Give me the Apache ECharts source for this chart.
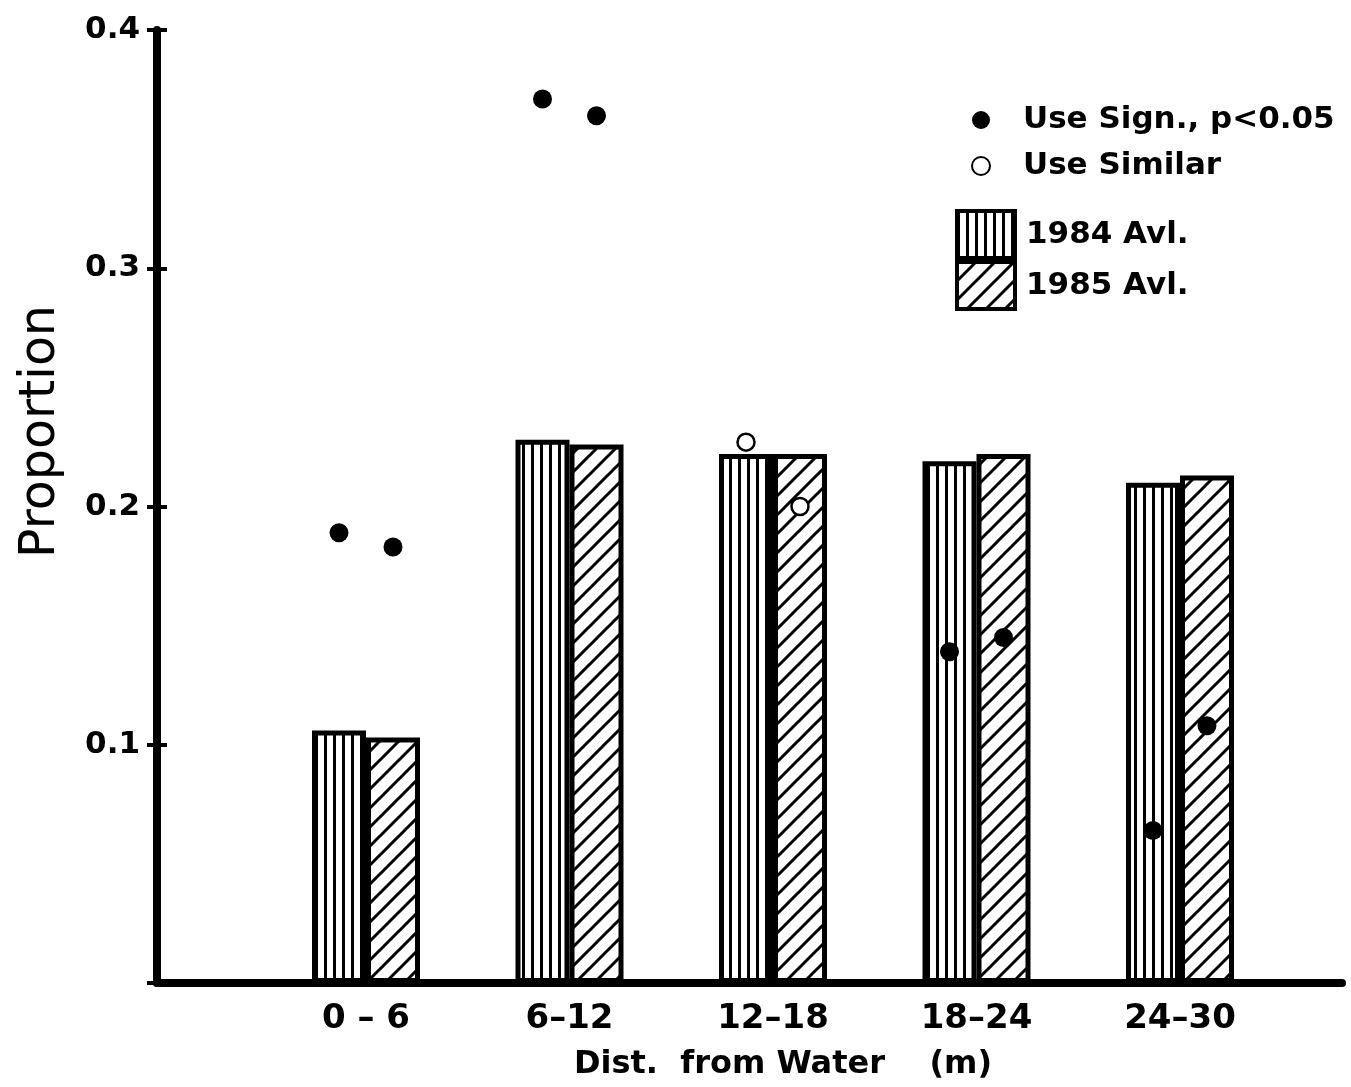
<!DOCTYPE html>
<html><head><meta charset="utf-8">
<script src="https://cdn.jsdelivr.net/npm/echarts@6/dist/echarts.min.js"></script>
<style>html,body{margin:0;padding:0;background:#fff}#c{width:1351px;height:1087px}</style>
</head><body><div id="c"></div>
<script>
// ---- data ----
const categories = ['0 – 6', '6–12', '12–18', '18–24', '24–30'];
const avl1984 = [0.106, 0.228, 0.222, 0.219, 0.210];
const avl1985 = [0.103, 0.226, 0.222, 0.222, 0.213];
const signUse1984 = [0.189, 0.371, null, 0.139, 0.064];
const signUse1985 = [0.183, 0.364, null, 0.145, 0.108];
const similarUse1984 = [null, null, 0.227, null, null];
const similarUse1985 = [null, null, 0.200, null, null];
const yTickValues = [0.1, 0.2, 0.3, 0.4];

// ---- patterns ----
function verticalStripes() {
  const c = document.createElement('canvas');
  c.width = 9; c.height = 9;
  const g = c.getContext('2d');
  g.fillStyle = '#fff'; g.fillRect(0, 0, 9, 9);
  g.fillStyle = '#000'; g.fillRect(0, 0, 3, 9);
  return c;
}
function diagonalStripes() {
  const s = 19;
  const c = document.createElement('canvas');
  c.width = s; c.height = s;
  const g = c.getContext('2d');
  g.fillStyle = '#fff'; g.fillRect(0, 0, s, s);
  g.strokeStyle = '#000'; g.lineWidth = 3;
  g.beginPath();
  g.moveTo(-2, s + 2); g.lineTo(s + 2, -2);
  g.moveTo(-2, 2); g.lineTo(2, -2);
  g.moveTo(s - 2, s + 2); g.lineTo(s + 2, s - 2);
  g.stroke();
  return c;
}
const fill1984 = { image: verticalStripes(), repeat: 'repeat' };
const fill1985 = { image: diagonalStripes(), repeat: 'repeat' };

const FONT = 'DejaVu Sans';
const half = 27;

const chart = echarts.init(document.getElementById('c'), null, { renderer: 'canvas' });
chart.setOption({
  backgroundColor: '#fff',
  animation: false,
  grid: [
    { left: 157, right: 9, top: 30, bottom: 104, outerBoundsMode: 'none' },
    { left: 264.25, width: 1017.5, top: 30, bottom: 104, outerBoundsMode: 'none' }
  ],
  xAxis: [
    { gridIndex: 0, type: 'value', min: 0, max: 1,
      axisLine: { show: true, lineStyle: { color: '#000', width: 8, cap: 'round' } },
      axisTick: { show: false }, axisLabel: { show: false }, splitLine: { show: false } },
    { gridIndex: 1, type: 'category', data: categories, boundaryGap: true,
      axisLine: { show: false }, axisTick: { show: false }, splitLine: { show: false },
      axisLabel: { color: '#000', fontFamily: FONT, fontWeight: 'bold', fontSize: 34, margin: 19 },
      name: 'Dist.  from Water    (m)', nameLocation: 'middle', nameGap: 66,
      nameTextStyle: { color: '#000', fontFamily: FONT, fontWeight: 'bold', fontSize: 32, padding: [0, 0, 0, 20] } }
  ],
  yAxis: [
    { gridIndex: 0, type: 'value', position: 'left', min: 0, max: 0.4, interval: 0.1,
      axisLine: { show: true, lineStyle: { color: '#000', width: 8, cap: 'round' } },
      axisTick: { show: true, length: 10, lineStyle: { color: '#000', width: 4 } },
      splitLine: { show: false },
      axisLabel: { color: '#000', fontFamily: FONT, fontWeight: 'bold', fontSize: 31, margin: 17,
        formatter: v => (yTickValues.some(t => Math.abs(t - v) < 1e-9) ? v.toFixed(1) : '') },
      name: 'Proportion', nameLocation: 'middle', nameGap: 91,
      nameTextStyle: { color: '#000', fontFamily: FONT, fontSize: 49, padding: [0, 0, 0, 150] } },
    { gridIndex: 0, type: 'value', position: 'left', offset: 0, min: 0, max: 0.4, interval: 0.1,
      axisLine: { show: false }, splitLine: { show: false }, axisLabel: { show: false },
      axisTick: { show: true, inside: true, length: 10, lineStyle: { color: '#000', width: 4 } } },
    { gridIndex: 1, type: 'value', min: 0, max: 0.4, show: false }
  ],
  legend: [
    { orient: 'vertical', left: 966, top: 97, itemWidth: 18, itemHeight: 18, itemGap: 10,
      data: [{ name: 'Use Sign., p<0.05', icon: 'circle' }, { name: 'Use Similar', icon: 'circle' }],
      selectedMode: false,
      textStyle: { color: '#000', fontFamily: FONT, fontWeight: 'bold', fontSize: 31, lineHeight: 36,
        padding: [0, 0, 0, 28] } },
    { orient: 'vertical', left: 950, top: 204, itemWidth: 58, itemHeight: 47, itemGap: 0,
      data: [{ name: '1984 Avl.', icon: 'rect' }, { name: '1985 Avl.', icon: 'rect' }],
      selectedMode: false,
      itemStyle: { borderColor: '#000', borderWidth: 4 },
      textStyle: { color: '#000', fontFamily: FONT, fontWeight: 'bold', fontSize: 31, padding: [0, 0, 0, 6] } }
  ],
  series: [
    { name: '1984 Avl.', type: 'bar', xAxisIndex: 1, yAxisIndex: 2, data: avl1984,
      barWidth: 54, barGap: '0%',
      itemStyle: { color: fill1984, borderColor: '#000', borderWidth: 5 } },
    { name: '1985 Avl.', type: 'bar', xAxisIndex: 1, yAxisIndex: 2, data: avl1985,
      barWidth: 54, barGap: '0%',
      itemStyle: { color: fill1985, borderColor: '#000', borderWidth: 5 } },
    { name: 'Use Sign., p<0.05', type: 'scatter', xAxisIndex: 1, yAxisIndex: 2, data: signUse1984,
      symbol: 'circle', symbolSize: 19, symbolOffset: [-half, 0], z: 5,
      itemStyle: { color: '#000', opacity: 1 } },
    { name: 'Use Sign., p<0.05', type: 'scatter', xAxisIndex: 1, yAxisIndex: 2, data: signUse1985,
      symbol: 'circle', symbolSize: 19, symbolOffset: [half, 0], z: 5,
      itemStyle: { color: '#000', opacity: 1 } },
    { name: 'Use Similar', type: 'scatter', xAxisIndex: 1, yAxisIndex: 2, data: similarUse1984,
      symbol: 'circle', symbolSize: 17, symbolOffset: [-half, 0], z: 5,
      itemStyle: { color: '#fff', borderColor: '#000', borderWidth: 2.5, opacity: 1 } },
    { name: 'Use Similar', type: 'scatter', xAxisIndex: 1, yAxisIndex: 2, data: similarUse1985,
      symbol: 'circle', symbolSize: 17, symbolOffset: [half, 0], z: 5,
      itemStyle: { color: '#fff', borderColor: '#000', borderWidth: 2.5, opacity: 1 } }
  ]
});
</script>
</body></html>
